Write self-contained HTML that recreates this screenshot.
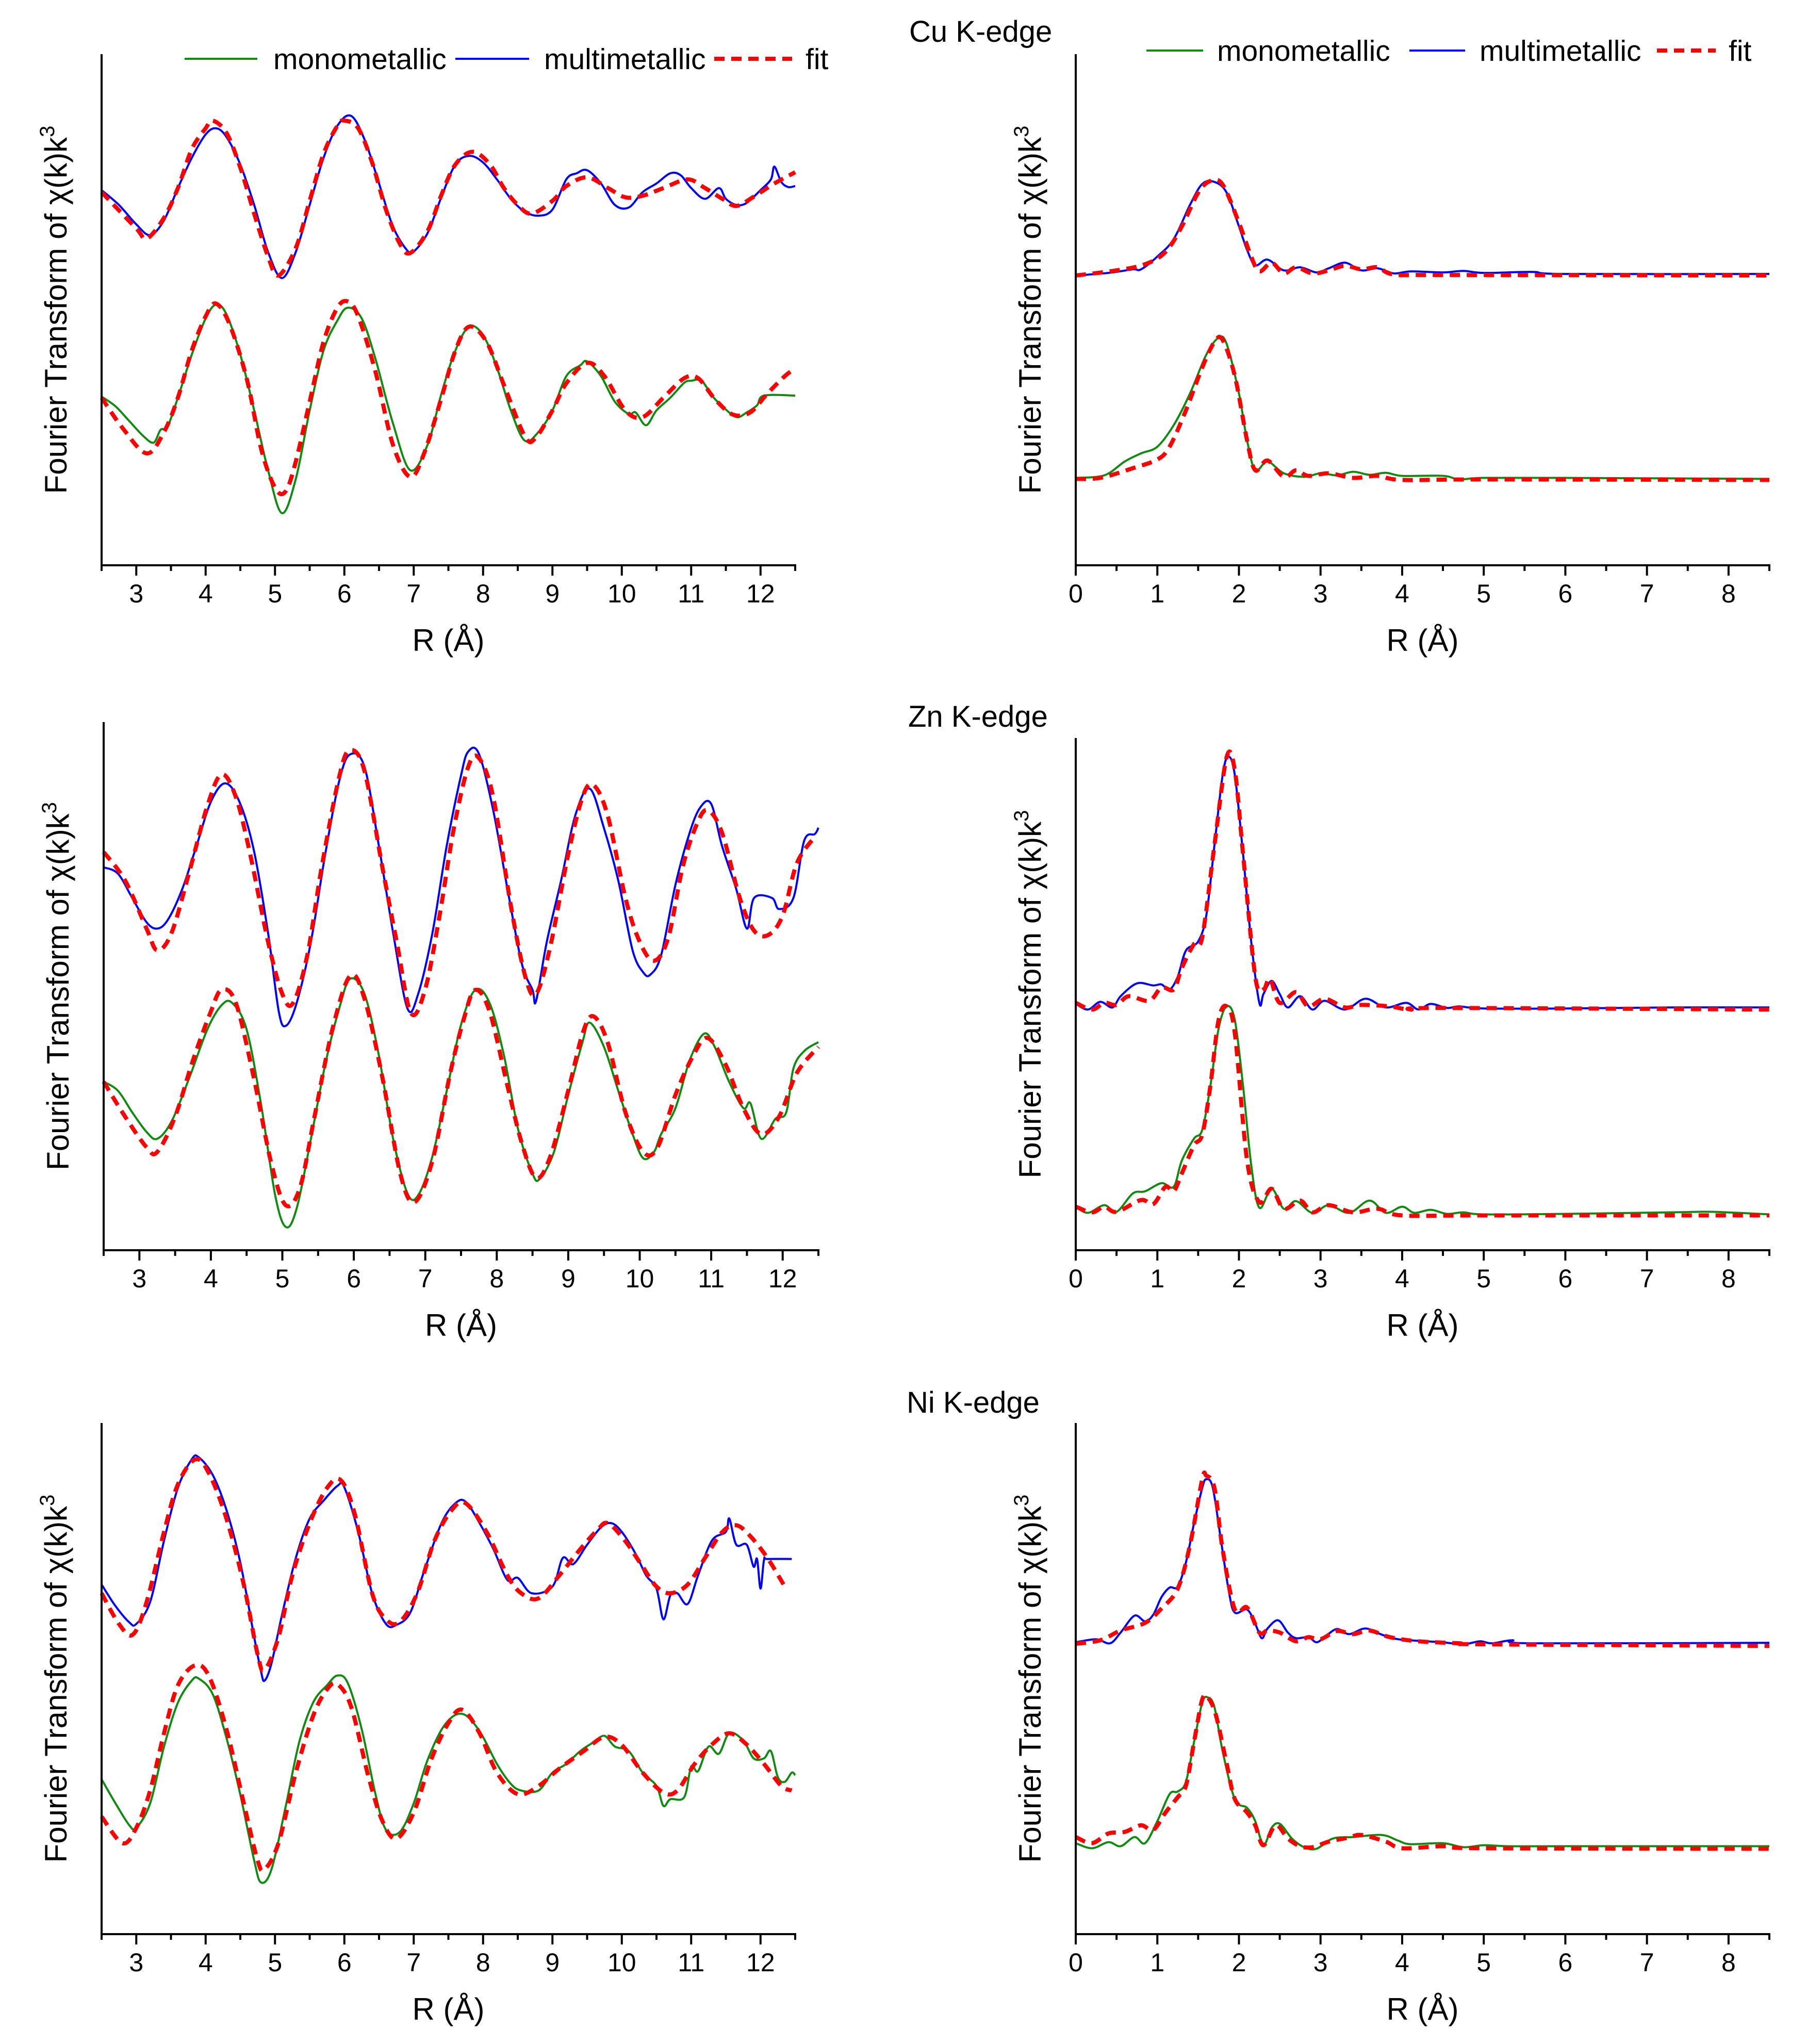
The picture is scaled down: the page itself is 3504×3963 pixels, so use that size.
<!DOCTYPE html>
<html><head><meta charset="utf-8"><style>
html,body{margin:0;padding:0;background:#fff;}
svg{display:block;font-family:"Liberation Sans",Arial,sans-serif;}
</style></head><body>
<svg id="fig" xmlns="http://www.w3.org/2000/svg" width="3504" height="3963" viewBox="0 0 3504 3963"></svg>
<script>
// ---- data: [R (Å), relative intensity 0-100 of axis height] ----
const cuLeftMulti=[[2.5,73.4],[2.75,70.5],[3,66.7],[3.2,64.6],[3.4,67.5],[3.6,73.8],[3.8,79.7],[4,84.3],[4.15,85.5],[4.3,83.8],[4.5,78.4],[4.7,70.5],[4.9,61.3],[5.1,56.2],[5.3,61.3],[5.5,70.5],[5.7,79.7],[5.9,86],[6.1,87.9],[6.3,83],[6.5,74.7],[6.7,66.3],[6.9,61.7],[7,61.4],[7.2,65],[7.4,72.1],[7.6,78.4],[7.8,80.1],[8,78.8],[8.2,75.5],[8.4,71.7],[8.6,69.2],[8.8,68.4],[9,69.6],[9.2,75.5],[9.35,76.7],[9.5,77.3],[9.7,74.7],[9.9,70.5],[10.1,70],[10.3,73],[10.5,74.7],[10.7,76.7],[10.85,76.3],[11,73.8],[11.2,71.7],[11.4,73.8],[11.5,71.7],[11.65,70.5],[11.8,70.9],[12,73.4],[12.15,75.5],[12.2,78],[12.3,75],[12.4,74],[12.5,74.2]];
const cuLeftMultiFit=[[2.5,73],[3,65.9],[3.15,63.9],[3.4,68],[3.6,73.8],[3.8,81.4],[4,85.5],[4.1,87],[4.3,84.6],[4.5,77.8],[4.7,68.8],[4.9,60.4],[5.05,56.7],[5.3,62.1],[5.5,71.3],[5.7,80.5],[5.9,86],[6,87],[6.2,85.5],[6.4,78.8],[6.6,69.6],[6.8,62.9],[6.95,61.1],[7.2,65.4],[7.4,72.5],[7.6,78.4],[7.85,80.9],[8.1,78.4],[8.3,73.8],[8.5,70.5],[8.7,68.8],[9,71.3],[9.2,74.2],[9.5,75.9],[9.8,73.8],[10.05,72],[10.3,72.3],[10.6,73.8],[10.95,75.5],[11.2,73.8],[11.45,71.7],[11.65,70.3],[11.9,72.1],[12.2,74.7],[12.5,76.9]];
const cuLeftMono=[[2.5,33],[2.7,31.1],[2.9,28.2],[3.1,25.3],[3.25,24],[3.35,26.5],[3.45,27.1],[3.6,32.8],[3.8,41.2],[4,48.3],[4.15,51],[4.3,49.1],[4.5,41.2],[4.7,30.3],[4.9,18.6],[5.1,10.2],[5.3,16.9],[5.5,30.3],[5.7,42],[5.9,47.9],[6.05,50.4],[6.25,48.3],[6.45,40.3],[6.7,27.8],[6.95,18.6],[7.2,23.6],[7.4,33.6],[7.6,42],[7.8,46.7],[8,45],[8.2,38.7],[8.4,30.3],[8.6,24.4],[8.8,26.1],[9,30.3],[9.2,37],[9.4,39.1],[9.5,39.9],[9.7,37],[9.9,32],[10.1,29.6],[10.2,29.9],[10.35,27.4],[10.5,30.3],[10.7,32.8],[10.9,35.7],[11,36.1],[11.15,36.1],[11.3,33.2],[11.45,31.1],[11.65,29],[11.8,29.9],[11.95,31.3],[12.05,33.2],[12.5,33.2]];
const cuLeftMonoFit=[[2.5,32.8],[2.8,26.9],[3.15,21.9],[3.4,26.1],[3.6,32.8],[3.8,42],[4,48.7],[4.15,51.2],[4.35,47],[4.6,36.1],[4.8,22.8],[5,15.2],[5.15,14.4],[5.3,20.3],[5.5,32],[5.7,43.7],[5.9,50.4],[6.05,51.6],[6.2,48.7],[6.45,37.8],[6.7,23.6],[6.95,17.3],[7.15,21.9],[7.4,32.8],[7.6,42],[7.8,46.7],[8.05,43.7],[8.3,35.3],[8.6,25.3],[8.75,24.8],[9,30.3],[9.2,35.6],[9.5,39.6],[9.75,37],[10.05,30.3],[10.3,29],[10.6,32.8],[10.9,36.6],[11.1,36.6],[11.35,32.4],[11.6,29.5],[11.85,29.9],[12.1,33.6],[12.35,37],[12.5,38.5]];

const cuRightMulti=[[0,56.7],[0.4,57.2],[0.7,57.9],[0.8,57.9],[1,60.4],[1.2,63.8],[1.4,70.5],[1.55,74.6],[1.7,75],[1.85,72.9],[2,66.3],[2.1,61.7],[2.2,58.7],[2.35,59.8],[2.55,57.7],[2.75,58.3],[2.95,57.3],[3.1,58.1],[3.3,59.2],[3.5,57.7],[3.7,58.1],[3.9,57.1],[4.1,57.5],[4.5,57.3],[4.75,57.6],[5,57.2],[5.6,57.4],[6,57],[8.5,57]];
const cuRightMultiFit=[[0,56.7],[0.5,57.7],[0.85,58.9],[1.1,61.3],[1.3,66.3],[1.5,72.9],[1.65,75.2],[1.8,74.5],[2,67],[2.15,60.4],[2.25,57.5],[2.4,59.2],[2.55,57.1],[2.7,58.3],[2.9,57.1],[3.1,57.7],[3.3,58.6],[3.5,57.9],[3.7,58.3],[3.9,56.9],[4.5,56.8],[8.5,56.7]];
const cuRightMono=[[0,17.1],[0.35,17.6],[0.6,20.3],[0.8,21.9],[1,23.2],[1.2,27.4],[1.4,33.6],[1.6,41.2],[1.75,44.5],[1.85,43.3],[2,33.6],[2.1,24.4],[2.2,18.6],[2.35,20.3],[2.55,18],[2.8,17.3],[3,18],[3.2,17.6],[3.4,18.3],[3.6,17.7],[3.8,18.1],[4,17.5],[4.5,17.5],[4.7,16.8],[5,17.1],[6,17.1],[8.5,16.9]];
const cuRightMonoFit=[[0,16.9],[0.3,17.1],[0.7,19],[1,20.7],[1.15,23.2],[1.35,30.3],[1.55,38.7],[1.7,43.7],[1.8,44.1],[1.95,37],[2.1,24.4],[2.2,18.6],[2.35,20.5],[2.55,17.3],[2.7,18.6],[2.85,17.5],[3.1,18],[3.4,17.1],[3.7,17.5],[4,16.7],[5,16.8],[8.5,16.7]];

const znLeftMulti=[[2.5,72.5],[2.7,71.3],[2.9,66.7],[3.1,62.1],[3.25,60.9],[3.4,62.6],[3.6,68.4],[3.8,76.6],[4,84.9],[4.2,88.4],[4.4,84.9],[4.6,75.8],[4.8,60.1],[4.95,45.2],[5.05,42.5],[5.2,46.8],[5.4,58.4],[5.6,75],[5.8,89.1],[5.95,93.9],[6.15,91.5],[6.35,76.6],[6.55,60.1],[6.75,45.8],[6.9,48.5],[7.1,60.1],[7.3,76.6],[7.5,89.9],[7.6,94.4],[7.75,94],[7.95,83.3],[8.15,68.4],[8.35,54.3],[8.5,49.3],[8.55,47.2],[8.7,58.4],[8.9,70],[9.1,82.4],[9.3,87.4],[9.5,79.9],[9.7,70],[9.9,56.8],[10.05,52.6],[10.15,52.2],[10.3,55.9],[10.5,69.2],[10.7,79.1],[10.85,83.9],[11,84.5],[11.15,76.6],[11.35,68.4],[11.5,60.9],[11.6,66.7],[11.85,66.7],[11.95,64.6],[12.15,66.7],[12.3,77.5],[12.45,78.8],[12.5,80]];
const znLeftMultiFit=[[2.5,75.4],[2.8,70],[3.1,60.9],[3.25,56.8],[3.45,60.1],[3.7,71.7],[3.95,84.1],[4.15,90.1],[4.35,85.8],[4.55,75],[4.8,58.4],[5,48.5],[5.15,46.8],[5.35,55.9],[5.55,72.5],[5.8,89.9],[5.95,94.7],[6.15,90.7],[6.4,72.5],[6.6,58.4],[6.8,44.9],[7,49.5],[7.2,63.4],[7.4,79.9],[7.6,91.5],[7.75,93.2],[7.95,85.8],[8.2,65],[8.4,51.8],[8.55,48.5],[8.75,57.6],[9,75],[9.2,85.8],[9.35,88.1],[9.55,82.4],[9.8,66.7],[10,58.4],[10.2,54.8],[10.4,59.2],[10.6,72.5],[10.8,80.7],[10.95,83.3],[11.15,79.1],[11.4,66.7],[11.6,60.5],[11.8,59.7],[12,63.4],[12.2,73.3],[12.45,78.3]];
const znLeftMono=[[2.5,31.9],[2.7,30.2],[2.9,26.1],[3.1,22.4],[3.25,21.1],[3.45,24.4],[3.7,32.7],[3.95,41.8],[4.15,46.4],[4.3,46.8],[4.5,41.8],[4.7,27.8],[4.9,10.4],[5.05,4.4],[5.2,7.9],[5.4,21.1],[5.6,35.2],[5.8,46],[5.95,51.4],[6.15,48.5],[6.35,36.9],[6.55,21.1],[6.75,10.8],[6.9,10.4],[7.1,17.8],[7.3,30.2],[7.5,42.7],[7.7,49.3],[7.9,46.8],[8.1,36.9],[8.3,22.8],[8.5,14.5],[8.6,13.5],[8.8,18.6],[9,29.4],[9.2,39.4],[9.3,43.1],[9.5,38.5],[9.7,30.2],[9.9,22],[10.05,17.4],[10.2,18.6],[10.3,22],[10.5,26.9],[10.7,36],[10.9,41],[11.05,38.5],[11.25,31.9],[11.45,26.9],[11.55,27.8],[11.7,21.1],[11.9,24.9],[12.05,26.1],[12.15,34.4],[12.3,37.7],[12.5,39.4]];
const znLeftMonoFit=[[2.5,31.9],[2.8,25.3],[3.1,19.5],[3.25,18.6],[3.5,25.3],[3.75,36],[4,45.2],[4.15,49.3],[4.35,46.8],[4.6,32.7],[4.85,16.2],[5.05,8.5],[5.25,12],[5.45,25.3],[5.7,41.8],[5.95,52],[6.15,47.6],[6.4,32.7],[6.65,14.5],[6.85,9.1],[7.1,17],[7.35,33.6],[7.55,44.3],[7.7,49.3],[7.9,45.2],[8.15,31.1],[8.35,20.3],[8.55,13.7],[8.75,17.8],[9,30.2],[9.2,41],[9.35,44.3],[9.55,39.4],[9.8,26.1],[10.05,18.6],[10.25,19.5],[10.5,29.4],[10.75,36.9],[10.95,40.2],[11.2,35.2],[11.45,26.9],[11.7,22],[11.95,25.3],[12.2,33.6],[12.5,38.5]];

const znRightMulti=[[0,48.1],[0.15,47],[0.3,48.5],[0.45,47.4],[0.55,49.6],[0.75,52.1],[0.95,51.7],[1.05,51.9],[1.15,50.9],[1.25,53.4],[1.35,58.5],[1.5,60.3],[1.6,65.4],[1.7,79.1],[1.8,92.7],[1.87,96.4],[1.95,92.7],[2.05,77.4],[2.15,60.3],[2.25,48.3],[2.3,50],[2.4,52.6],[2.5,50],[2.6,47.4],[2.75,49.6],[2.9,47],[3.05,48.7],[3.3,47],[3.55,49.1],[3.8,47.4],[4.05,48.3],[4.2,47],[4.35,48.1],[4.55,47.3],[4.7,47.6],[5,47.2],[6,47.2],[7.3,47.4],[8.5,47.4]];
const znRightMultiFit=[[0,48.3],[0.2,47],[0.35,48.3],[0.5,47.9],[0.65,49.6],[0.9,48.7],[1.05,51.3],[1.2,50.9],[1.3,55.1],[1.45,59.8],[1.55,61.1],[1.7,79.1],[1.85,96.3],[1.95,93.6],[2.05,77.4],[2.2,53.4],[2.3,50.9],[2.38,53],[2.5,48.3],[2.7,50.4],[2.85,47.6],[3.05,49.1],[3.3,47.4],[3.5,47.9],[3.85,47.6],[4.1,47],[4.5,47.3],[8.5,47]];
const znRightMono=[[0,8.5],[0.15,7.3],[0.35,8.8],[0.5,7.5],[0.7,11.1],[0.85,11.5],[1.05,13.1],[1.2,12.4],[1.3,17.5],[1.45,21.8],[1.55,23.5],[1.65,32.1],[1.75,43.2],[1.85,47.6],[1.95,44.9],[2.05,32.1],[2.15,16.7],[2.25,8.3],[2.4,12],[2.55,8.1],[2.7,9.6],[2.9,7.3],[3.1,8.8],[3.35,7.3],[3.6,9.7],[3.8,7.3],[4,8.5],[4.15,7.3],[4.35,7.9],[4.55,7.1],[4.75,7.4],[5,7],[6,7.1],[7.3,7.4],[7.8,7.5],[8.5,7]];
const znRightMonoFit=[[0,8.5],[0.2,7.4],[0.35,8.5],[0.5,7.5],[0.8,9.8],[0.95,9],[1.1,12.4],[1.2,11.5],[1.3,15],[1.45,20.5],[1.55,22.6],[1.65,32.1],[1.75,44.9],[1.85,47.6],[1.95,42.3],[2.1,17.5],[2.25,9.4],[2.4,12],[2.55,8.1],[2.75,9.7],[2.9,7.4],[3.1,8.8],[3.4,7.4],[3.7,8.1],[4,6.8],[5,6.8],[8.5,6.8]];

const niLeftMulti=[[2.5,68.4],[2.7,64.2],[2.9,61],[3,60.7],[3.2,65],[3.4,77],[3.6,87.3],[3.8,92.9],[3.9,93.3],[4.1,89.9],[4.3,83],[4.5,72.7],[4.7,58.1],[4.8,51.3],[4.85,49.6],[4.95,53],[5.1,62.4],[5.3,73.6],[5.5,81.3],[5.7,84.8],[5.9,87.7],[6,87.4],[6.2,78.7],[6.4,66.7],[6.6,60.7],[6.75,60.5],[6.95,62.9],[7.15,71],[7.4,80.4],[7.6,84.3],[7.75,84.6],[7.95,80.4],[8.15,75.3],[8.35,69.3],[8.5,69.7],[8.7,66.7],[9,68],[9.15,73.6],[9.3,72.4],[9.5,76.2],[9.7,79.6],[9.85,80.4],[10,78.7],[10.2,74.4],[10.35,70.2],[10.5,67.6],[10.6,61.6],[10.7,66.3],[10.8,66.7],[10.95,64.6],[11.1,70.2],[11.3,77],[11.5,78.7],[11.55,81.3],[11.65,76.2],[11.8,76.2],[11.9,71.9],[11.95,73.4],[12,67.6],[12.05,73.2],[12.1,73.4],[12.45,73.4]];
const niLeftMultiFit=[[2.5,66.7],[2.75,60.7],[2.95,58.6],[3.15,65],[3.4,78.7],[3.6,88],[3.85,92.9],[4.05,90.1],[4.3,81.3],[4.55,68.4],[4.75,54.7],[4.85,51.7],[5.05,58.1],[5.25,70.2],[5.5,80.4],[5.75,87.3],[5.95,88.8],[6.15,82.2],[6.4,66.7],[6.6,61.6],[6.8,61.1],[7.05,66.7],[7.3,77],[7.55,83],[7.75,84.3],[8.05,78.7],[8.35,70.2],[8.55,66.7],[8.8,65.7],[9.1,70.2],[9.4,75.3],[9.65,79.1],[9.8,80.4],[10.05,76.9],[10.3,71.9],[10.5,68],[10.7,66.7],[10.95,68.4],[11.2,73.6],[11.45,78.7],[11.65,80],[11.85,77.9],[12.1,73.6],[12.35,68]];
const niLeftMono=[[2.5,30.3],[2.7,25.6],[2.9,21.3],[3,20.8],[3.2,25.6],[3.4,36.7],[3.6,45.3],[3.8,49.6],[3.9,50],[4.1,47],[4.3,38.4],[4.5,27.3],[4.7,14.4],[4.8,10.1],[4.95,12.7],[5.15,24.7],[5.35,37.6],[5.55,45.3],[5.75,48.7],[5.9,50.6],[6.05,49.1],[6.25,40.1],[6.45,27.3],[6.6,20.4],[6.8,20],[7,25.6],[7.2,34.1],[7.45,41],[7.7,43.1],[7.95,39.7],[8.2,33.3],[8.4,29.4],[8.55,28.1],[8.8,28.1],[9,31.6],[9.2,33.3],[9.4,35.8],[9.6,37.6],[9.75,38.8],[9.9,36.7],[10.1,35.8],[10.3,31.6],[10.5,29],[10.6,25.1],[10.7,26.4],[10.9,26.8],[11,32.8],[11.1,31.9],[11.25,36.7],[11.4,35.3],[11.55,39.3],[11.75,37.9],[11.9,34.4],[12.05,34.4],[12.15,35.8],[12.25,30.7],[12.35,29.8],[12.45,31.6],[12.5,31.1]];
const niLeftMonoFit=[[2.5,23],[2.8,17.8],[3,20.8],[3.2,28.1],[3.4,39.3],[3.6,48.7],[3.85,52.6],[4.05,50.4],[4.3,40.1],[4.55,25.6],[4.75,14.4],[4.85,12.7],[5.05,17.8],[5.3,31.6],[5.55,42.7],[5.75,47.9],[5.9,48.9],[6.1,44.4],[6.35,30.7],[6.55,22.1],[6.75,18.7],[7,23.8],[7.25,34.1],[7.5,41.3],[7.7,43.9],[7.95,39.3],[8.2,31.6],[8.5,27.4],[8.8,29],[9.1,32.4],[9.45,35.8],[9.75,38.6],[10,37],[10.3,31.6],[10.6,27.7],[10.8,28.1],[11.05,33.3],[11.3,37.1],[11.55,39.3],[11.8,37.1],[12.05,33.3],[12.3,29],[12.45,28.1]];

const niRightMulti=[[0,57.1],[0.25,57.7],[0.42,56.9],[0.55,59],[0.72,62.3],[0.85,61.2],[0.95,62.5],[1.05,65.9],[1.15,67.8],[1.25,68],[1.35,72.7],[1.45,80.4],[1.55,87.3],[1.6,89],[1.68,87.3],[1.78,77],[1.88,66.7],[1.95,62.9],[2.1,63.5],[2.2,60.7],[2.28,57.9],[2.35,59.8],[2.48,61.4],[2.6,59],[2.7,57.9],[2.85,58.1],[2.95,57.1],[3.05,58.1],[3.2,59.7],[3.35,58.7],[3.55,59.8],[3.75,58.6],[3.95,57.7],[4.3,57.3],[4.5,57.1],[4.75,56.7],[4.95,57.3],[5.1,56.9],[5.35,57.5],[5.6,56.9],[8.5,57]];
const niRightMultiFit=[[0,56.8],[0.3,57.5],[0.55,59.4],[0.85,60.9],[1.05,63.7],[1.25,67.6],[1.4,76.1],[1.55,89],[1.6,89.7],[1.7,87.3],[1.8,75.3],[1.95,63.5],[2.1,63.9],[2.25,59],[2.35,59.4],[2.5,59],[2.7,57.3],[2.85,58.1],[3,57.7],[3.2,59.3],[3.4,58.7],[3.6,59.4],[3.85,58.1],[4.2,57.3],[4.7,56.9],[5,56.7],[8.5,56.4]];
const niRightMono=[[0,17.8],[0.2,16.8],[0.4,18],[0.55,17.2],[0.72,19],[0.85,17.8],[1,22.1],[1.15,27.4],[1.25,27.9],[1.35,29.8],[1.45,37.6],[1.55,45.3],[1.62,46.3],[1.7,44.4],[1.8,35.8],[1.95,26.4],[2.1,24.7],[2.2,22.1],[2.3,17.4],[2.4,20.8],[2.5,21.6],[2.65,18.7],[2.8,17],[2.95,16.7],[3.15,18.7],[3.4,19],[3.75,19.4],[3.95,18.3],[4.1,17.6],[4.5,17.8],[4.75,17],[5,17.4],[5.3,17.2],[6,17.2],[8.5,17.2]];
const niRightMonoFit=[[0,19],[0.2,17.8],[0.4,19.7],[0.6,20],[0.8,21.3],[0.95,20.4],[1.1,23.8],[1.25,26.8],[1.35,29],[1.45,37.6],[1.55,45.9],[1.62,46.3],[1.72,42.7],[1.85,33.3],[1.95,26.4],[2.1,23.8],[2.2,21.3],[2.3,17.4],[2.45,21.3],[2.6,18.7],[2.75,17.2],[2.9,17],[3.1,18.1],[3.35,18.9],[3.5,19.4],[3.8,18.1],[4,16.8],[4.5,17.2],[5,16.8],[8.5,16.7]];

const leftTicks=[3,4,5,6,7,8,9,10,11,12];
const rightTicks=[0,1,2,3,4,5,6,7,8];

const NS='http://www.w3.org/2000/svg';
const svg=document.getElementById('fig');
function mk(tag,attrs,parent){const e=document.createElementNS(NS,tag);for(const k in attrs)e.setAttribute(k,attrs[k]);(parent||svg).appendChild(e);return e;}

function smoothPath(pts){
  let d='M'+pts[0][0].toFixed(1)+','+pts[0][1].toFixed(1);
  for(let i=0;i<pts.length-1;i++){
    const p0=pts[Math.max(0,i-1)],p1=pts[i],p2=pts[i+1],p3=pts[Math.min(pts.length-1,i+2)];
    const t=1/6;
    const c1=[p1[0]+(p2[0]-p0[0])*t,p1[1]+(p2[1]-p0[1])*t];
    const c2=[p2[0]-(p3[0]-p1[0])*t,p2[1]-(p3[1]-p1[1])*t];
    d+=' C'+c1[0].toFixed(1)+','+c1[1].toFixed(1)+' '+c2[0].toFixed(1)+','+c2[1].toFixed(1)+' '+p2[0].toFixed(1)+','+p2[1].toFixed(1);
  }
  return d;
}

function panel(cfg){
  const g=mk('g',{});
  
  
  const xs=v=>cfg.x0+(v-cfg.xmin)/(cfg.xmax-cfg.xmin)*(cfg.x1-cfg.x0);
  const ys=v=>cfg.yb-(v/100)*(cfg.yb-cfg.yt);
  const series=[
    {d:cfg.multi,c:'#0000ff',w:4,dash:null,n:'multimetallic-line'},
    {d:cfg.mono,c:'#108a10',w:4,dash:null,n:'monometallic-line'},
    {d:cfg.multiFit,c:'#ff0000',w:8,dash:'20,13',n:'multimetallic-fit-line'},
    {d:cfg.monoFit,c:'#ff0000',w:8,dash:'20,13',n:'monometallic-fit-line'}
  ];
  series.forEach(s=>{
    const p=mk('path',{d:smoothPath(s.d.map(q=>[xs(q[0]),ys(q[1])])),fill:'none',stroke:s.c,'stroke-width':s.w,'stroke-linejoin':'round'},g);
    if(s.dash)p.setAttribute('stroke-dasharray',s.dash);
    
    
  });
  const ya=mk('line',{x1:cfg.x0,y1:cfg.yt,x2:cfg.x0,y2:cfg.yb+2,stroke:'#000','stroke-width':4},g);
  
  
  const xa=mk('line',{x1:cfg.x0-2,y1:cfg.yb,x2:cfg.x1+2,y2:cfg.yb,stroke:'#000','stroke-width':4},g);
  
  
  for(let v=cfg.xmin;v<=cfg.xmax+1e-6;v+=0.5){
    const major=Math.abs(v-Math.round(v))<1e-6;
    mk('line',{x1:xs(v),y1:cfg.yb,x2:xs(v),y2:cfg.yb+(major?20:11),stroke:'#000','stroke-width':4},g);
  }
  cfg.ticks.forEach(v=>{
    const t=mk('text',{x:xs(v),y:cfg.yb+72,'font-size':50,'text-anchor':'middle',fill:'#000'},g);
    t.textContent=String(v);
    
    
  });
  const xt=mk('text',{x:(cfg.x0+cfg.x1)/2,y:cfg.yb+166,'font-size':60,'text-anchor':'middle',fill:'#000'},g);
  xt.textContent='R (Å)';
  
  
  const cx=cfg.x0-68, cy=(cfg.yt+cfg.yb)/2;
  const yt=mk('text',{x:cx,y:cy,'font-size':60,'text-anchor':'middle',fill:'#000',transform:'rotate(-90 '+cx+' '+cy+')'},g);
  
  
  yt.appendChild(document.createTextNode('Fourier Transform of χ(k)k'));
  const sup=mk('tspan',{'font-size':40,dy:-24},yt);
  sup.textContent='3';
  if(cfg.label){
    const lt=mk('text',{x:cfg.label[1],y:cfg.label[2],'font-size':58,fill:'#000'},g);
    lt.textContent=cfg.label[0];
    
    
  }
}

function legend(y,x){
  const g=mk('g',{});
  
  
  const items=[['monometallic','#108a10',4,null],['multimetallic','#0000ff',4,null],['fit','#ff0000',8,'20,13']];
  items.forEach((it,i)=>{
    const e=mk('g',{},g);
    
    
    const l=mk('line',{x1:x[i][0],y1:y,x2:x[i][1],y2:y,stroke:it[1],'stroke-width':it[2]},e);
    if(it[3])l.setAttribute('stroke-dasharray',it[3]);
    const t=mk('text',{x:x[i][2],y:y+20,'font-size':57,fill:'#000'},e);
    t.textContent=it[0];
  });
}

panel({name:'cu-left-panel',x0:197,x1:1542,xmin:2.5,xmax:12.5,yt:105,yb:1096,ticks:leftTicks,multi:cuLeftMulti,multiFit:cuLeftMultiFit,mono:cuLeftMono,monoFit:cuLeftMonoFit});
panel({name:'cu-right-panel',x0:2086,x1:3431,xmin:0,xmax:8.5,yt:105,yb:1096,ticks:rightTicks,multi:cuRightMulti,multiFit:cuRightMultiFit,mono:cuRightMono,monoFit:cuRightMonoFit,label:['Cu K-edge',1763,81]});
panel({name:'zn-left-panel',x0:201,x1:1587,xmin:2.5,xmax:12.5,yt:1400,yb:2424,ticks:leftTicks,multi:znLeftMulti,multiFit:znLeftMultiFit,mono:znLeftMono,monoFit:znLeftMonoFit});
panel({name:'zn-right-panel',x0:2086,x1:3431,xmin:0,xmax:8.5,yt:1431,yb:2424,ticks:rightTicks,multi:znRightMulti,multiFit:znRightMultiFit,mono:znRightMono,monoFit:znRightMonoFit,label:['Zn K-edge',1761,1409]});
panel({name:'ni-left-panel',x0:197,x1:1542,xmin:2.5,xmax:12.5,yt:2759,yb:3750,ticks:leftTicks,multi:niLeftMulti,multiFit:niLeftMultiFit,mono:niLeftMono,monoFit:niLeftMonoFit});
panel({name:'ni-right-panel',x0:2086,x1:3431,xmin:0,xmax:8.5,yt:2759,yb:3750,ticks:rightTicks,multi:niRightMulti,multiFit:niRightMultiFit,mono:niRightMono,monoFit:niRightMonoFit,label:['Ni K-edge',1758,2739]});

legend(114,[[358,499,530],[883,1026,1055],[1385,1536,1562]]);
legend(98,[[2223,2333,2360],[2733,2841,2869],[3213,3327,3352]]);
</script>
</body></html>
